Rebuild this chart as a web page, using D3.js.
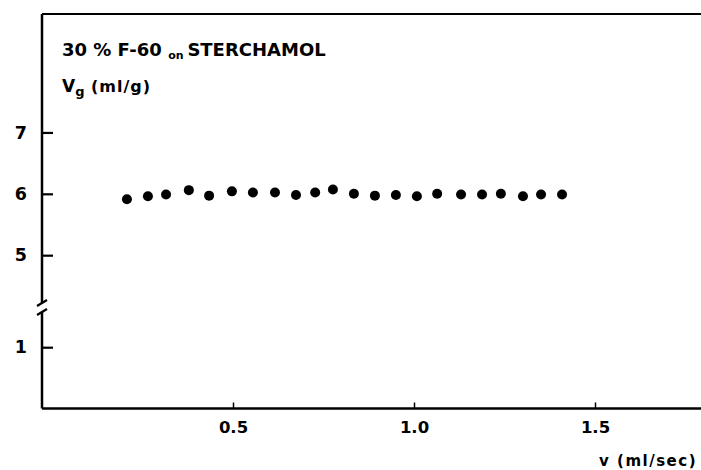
<!DOCTYPE html>
<html><head><meta charset="utf-8">
<script src="https://cdn.jsdelivr.net/npm/d3@7"></script>
<style>body{margin:0;background:#fff}svg{display:block}</style>
</head><body>
<script>
const flowRate = [0.207,0.265,0.315,0.378,0.434,0.497,0.555,0.616,0.674,0.727,0.776,0.834,0.892,0.950,1.008,1.064,1.130,1.188,1.240,1.301,1.351,1.409];
const retentionVolume = [5.91,5.96,5.99,6.06,5.97,6.04,6.02,6.02,5.98,6.02,6.07,6.00,5.97,5.98,5.96,6.00,5.99,5.99,6.00,5.96,5.99,5.99];
const xTicks = [0.5, 1.0, 1.5];
const xTickLabels = ["0.5", "1.0", "1.5"];
const yTicks = [1, 5, 6, 7];
const yBreak = [1.6, 4.1];

(function () {
const W = 701, H = 470;
const mLeft = 42, mRight = 701, mTop = 14, mBottom = 408.5;
const svg = d3.select("body").append("svg").attr("width", W).attr("height", H);

const x = d3.scaleLinear().domain([0.5, 1.5]).range([233, 595]);
const yBreakPx = 306;
const y = d3.scaleLinear()
  .domain([0, yBreak[0], yBreak[1], 8.93])
  .range([mBottom, mBottom - yBreak[0]*61.3, mBottom - yBreak[0]*61.3, mTop]);

const font = "'DejaVu Sans', 'Liberation Sans', sans-serif";

svg.append("line").attr("x1", mLeft).attr("x2", mRight).attr("y1", mTop).attr("y2", mTop)
  .attr("stroke", "#000").attr("stroke-width", 2);
svg.append("line").attr("x1", mLeft).attr("x2", mRight).attr("y1", mBottom).attr("y2", mBottom)
  .attr("stroke", "#000").attr("stroke-width", 2.5);
svg.append("line").attr("x1", mLeft).attr("x2", mLeft).attr("y1", mTop).attr("y2", yBreakPx - 3)
  .attr("stroke", "#000").attr("stroke-width", 2.5);
svg.append("line").attr("x1", mLeft).attr("x2", mLeft).attr("y1", yBreakPx + 6).attr("y2", mBottom)
  .attr("stroke", "#000").attr("stroke-width", 2.5);
[yBreakPx - 3, yBreakPx + 6].forEach(yy => {
  svg.append("line").attr("x1", mLeft - 5).attr("x2", mLeft + 5).attr("y1", yy + 3).attr("y2", yy - 3)
    .attr("stroke", "#000").attr("stroke-width", 2.2);
});

const yAxis = svg.append("g").attr("transform", `translate(${mLeft},0)`)
  .call(d3.axisLeft(y).tickValues(yTicks).tickSize(-11).tickPadding(15).tickFormat(d3.format("d")));
yAxis.select(".domain").remove();
yAxis.selectAll(".tick line").attr("stroke", "#000").attr("stroke-width", 2.2);
yAxis.selectAll(".tick text").attr("font-family", font).attr("font-weight", "bold")
  .attr("font-size", 17.5).attr("fill", "#000");

const xAxis = svg.append("g").attr("transform", `translate(0,${mBottom})`)
  .call(d3.axisBottom(x).tickValues(xTicks).tickSize(-6).tickPadding(13)
    .tickFormat((d, i) => xTickLabels[i]));
xAxis.select(".domain").remove();
xAxis.selectAll(".tick line").attr("stroke", "#000").attr("stroke-width", 1.5);
xAxis.selectAll(".tick text").attr("font-family", font).attr("font-weight", "bold")
  .attr("font-size", 16.5).attr("fill", "#000");

svg.append("g").selectAll("circle").data(flowRate).join("circle")
  .attr("cx", d => x(d)).attr("cy", (d, i) => y(retentionVolume[i]))
  .attr("r", 5).attr("fill", "#000");

const t1 = svg.append("text").attr("x", 62).attr("y", 56).attr("font-family", font)
  .attr("font-weight", "bold").attr("font-size", 18).attr("fill", "#000");
t1.append("tspan").text("30 %  F-60 ");
t1.append("tspan").attr("font-size", 11).attr("dy", 3).text("on ");
t1.append("tspan").attr("dy", -3).text("STERCHAMOL");

const t2 = svg.append("text").attr("x", 62).attr("y", 92).attr("font-family", font)
  .attr("font-weight", "bold").attr("font-size", 17).attr("fill", "#000");
t2.append("tspan").text("V");
t2.append("tspan").attr("font-size", 13).attr("dy", 4).text("g");
t2.append("tspan").attr("dy", -4).attr("font-size", 16).attr("letter-spacing", 1).text(" (ml/g)");

svg.append("text").attr("x", 697).attr("y", 466).attr("text-anchor", "end")
  .attr("font-family", font).attr("font-weight", "bold").attr("font-size", 15)
  .attr("letter-spacing", 1.5).attr("fill", "#000").text("v (ml/sec)");
})();
</script>
</body></html>
